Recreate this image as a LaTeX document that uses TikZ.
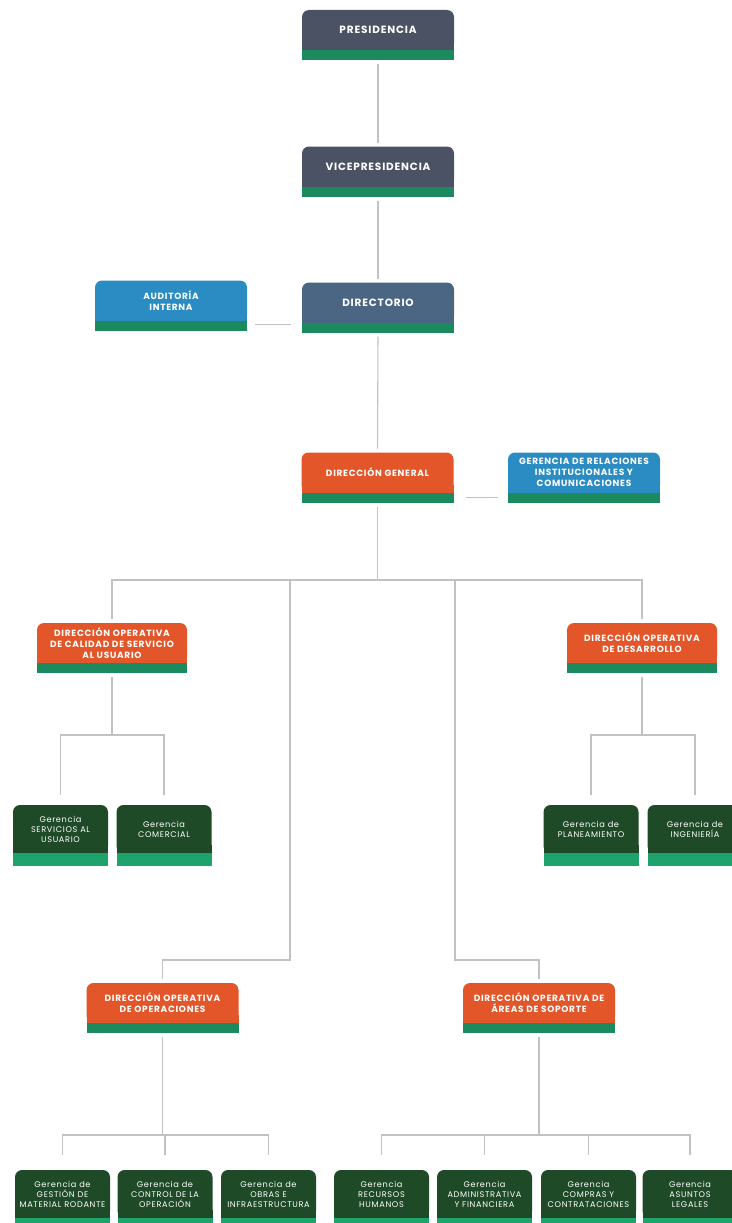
\documentclass[tikz,border=0pt]{standalone}
\usepackage{fontspec}
\setmainfont{Poppins}[LetterSpace=8]
\pgfdeclarelayer{back}
\pgfsetlayers{back,main}
\definecolor{slate}{HTML}{4B5263}
\definecolor{steel}{HTML}{4A6682}
\definecolor{sky}{HTML}{2A8CC2}
\definecolor{rust}{HTML}{E2562A}
\definecolor{pine}{HTML}{1E4A28}
\definecolor{band}{HTML}{1B8A5E}
\definecolor{gband}{HTML}{1FA36D}
\definecolor{wire}{HTML}{C2C2C2}
% node, body colour, band colour, band height
\newcommand\band[4]{%
  \begin{pgfonlayer}{back}
    \fill[#2] ([yshift=8pt]#1.south west) rectangle (#1.south east);
  \end{pgfonlayer}
  \fill[#3] (#1.south west) rectangle ([yshift=-#4pt]#1.south east);}

\begin{document}
\begin{tikzpicture}[x=1pt,y=-1pt,
  unit/.style={rectangle,rounded corners=7pt,minimum width=152pt,minimum height=40pt,
    inner sep=1pt,outer sep=0pt,align=center,text=white,font=\bfseries\fontsize{9}{10.8}\selectfont},
  head/.style={unit,font=\bfseries\fontsize{10.5}{12}\selectfont},
  gunit/.style={unit,minimum width=95pt,minimum height=48pt,fill=pine,
    font=\fontsize{8.2}{10}\selectfont},
  link/.style={color=wire,line width=1.1pt,shorten <=4pt,shorten >=4pt}]

\useasboundingbox (0,0) rectangle (731,1223);

\node[head,fill=slate] (pres) at (378,30) {PRESIDENCIA};
\node[head,fill=slate] (vice) at (378,166.5) {VICEPRESIDENCIA};
\node[head,fill=steel] (dir) at (378,302.5) {DIRECTORIO};
\node[unit,fill=sky] (aud) at (171,300.5) {AUDITORÍA\\INTERNA};
\node[unit,fill=rust] (dg) at (377.5,472.5) {DIRECCIÓN GENERAL};
\node[unit,fill=sky] (rel) at (584,472.5) {GERENCIA DE RELACIONES\\INSTITUCIONALES Y\\COMUNICACIONES};

\node[unit,fill=rust,minimum width=150pt] (cal) at (112,643) {DIRECCIÓN OPERATIVA\\DE CALIDAD DE SERVICIO\\AL USUARIO};
\node[unit,fill=rust,minimum width=150pt] (des) at (642,643) {DIRECCIÓN OPERATIVA\\DE DESARROLLO};

\node[gunit] (serv) at (60.5,829) {Gerencia\\SERVICIOS AL\\USUARIO};
\node[gunit] (com) at (164,829) {Gerencia\\COMERCIAL};
\node[gunit] (plan) at (591,829) {Gerencia de\\PLANEAMIENTO};
\node[gunit] (ing) at (695,829) {Gerencia de\\INGENIERÍA};

\node[unit,fill=rust] (ops) at (162.5,1003) {DIRECCIÓN OPERATIVA\\DE OPERACIONES};
\node[unit,fill=rust] (sop) at (539,1003) {DIRECCIÓN OPERATIVA DE\\ÁREAS DE SOPORTE};

\node[gunit] (mat) at (62.5,1194) {Gerencia de\\GESTIÓN DE\\MATERIAL RODANTE};
\node[gunit] (ctl) at (165,1194) {Gerencia de\\CONTROL DE LA\\OPERACIÓN};
\node[gunit] (obr) at (268.5,1194) {Gerencia de\\OBRAS E\\INFRAESTRUCTURA};
\node[gunit] (rrhh) at (381.5,1194) {Gerencia\\RECURSOS\\HUMANOS};
\node[gunit] (adm) at (484.5,1194) {Gerencia\\ADMINISTRATIVA\\Y FINANCIERA};
\node[gunit] (comp) at (588.5,1194) {Gerencia\\COMPRAS Y\\CONTRATACIONES};
\node[gunit] (leg) at (690,1194) {Gerencia\\ASUNTOS\\LEGALES};

\band{pres}{slate}{band}{10}
\band{vice}{slate}{band}{10}
\band{dir}{steel}{band}{10}
\band{aud}{sky}{band}{10}
\band{dg}{rust}{band}{10}
\band{rel}{sky}{band}{10}
\band{cal}{rust}{band}{10}
\band{des}{rust}{band}{10}
\band{ops}{rust}{band}{10}
\band{sop}{rust}{band}{10}
\foreach \n in {serv,com,plan,ing,mat,ctl,obr,rrhh,adm,comp,leg}
  \band{\n}{pine}{gband}{13};

% top
\draw[link] ([yshift=-10pt]pres.south) -- (vice.north);
\draw[link] ([yshift=-10pt]vice.south) -- (dir.north);
\draw[link] ([yshift=-10pt]dir.south) -- (dg.north);
\draw[link,shorten <=8pt,shorten >=11pt] ([yshift=-4pt]aud.south east) -- ([yshift=-4pt]aud.south east -| dir.west);
\draw[link,shorten <=12pt,shorten >=10pt] ([yshift=-5pt]dg.south east) -- ([yshift=-5pt]dg.south east -| rel.west);

% main bus
\coordinate (hub) at (377.5,580);
\coordinate (left arm) at (290,580);
\coordinate (right arm) at (455,580);
\draw[link,shorten >=0pt] ([yshift=-10pt]dg.south) -- (hub);
\draw[link] (cal.north) |- (hub) -| (des.north);
\draw[link,shorten <=0pt] (left arm) |- ([yshift=23pt]ops.north) -- (ops.north);
\draw[link,shorten <=0pt] (right arm) |- ([yshift=23pt]sop.north) -- (sop.north);

% first row
\coordinate (cal hub) at (112,735);
\coordinate (des hub) at (642,735);
\draw[link,shorten >=0pt] ([yshift=-10pt]cal.south) -- (cal hub);
\draw[link,shorten <=10pt,shorten >=10pt] (serv.north) |- (cal hub) -| (com.north);
\draw[link,shorten >=0pt] ([yshift=-10pt]des.south) -- (des hub);
\draw[link,shorten <=10pt,shorten >=10pt] (plan.north) |- (des hub) -| (ing.north);

% last row
\coordinate (ops hub) at (162.5,1135);
\coordinate (sop hub) at (539,1135);
\draw[link,shorten >=0pt] ([yshift=-10pt]ops.south) -- (ops hub);
\draw[link,shorten <=15pt,shorten >=15pt] (mat.north) |- (ops hub) -| (obr.north);
\draw[link,shorten <=0pt,shorten >=15pt] (ops hub -| ctl.north) -- (ctl.north);
\draw[link,shorten >=0pt] ([yshift=-10pt]sop.south) -- (sop hub);
\draw[link,shorten <=15pt,shorten >=15pt] (rrhh.north) |- (sop hub) -| (leg.north);
\foreach \n in {adm,comp}
  \draw[link,shorten <=0pt,shorten >=15pt] (sop hub -| \n.north) -- (\n.north);

\end{tikzpicture}
\end{document}
